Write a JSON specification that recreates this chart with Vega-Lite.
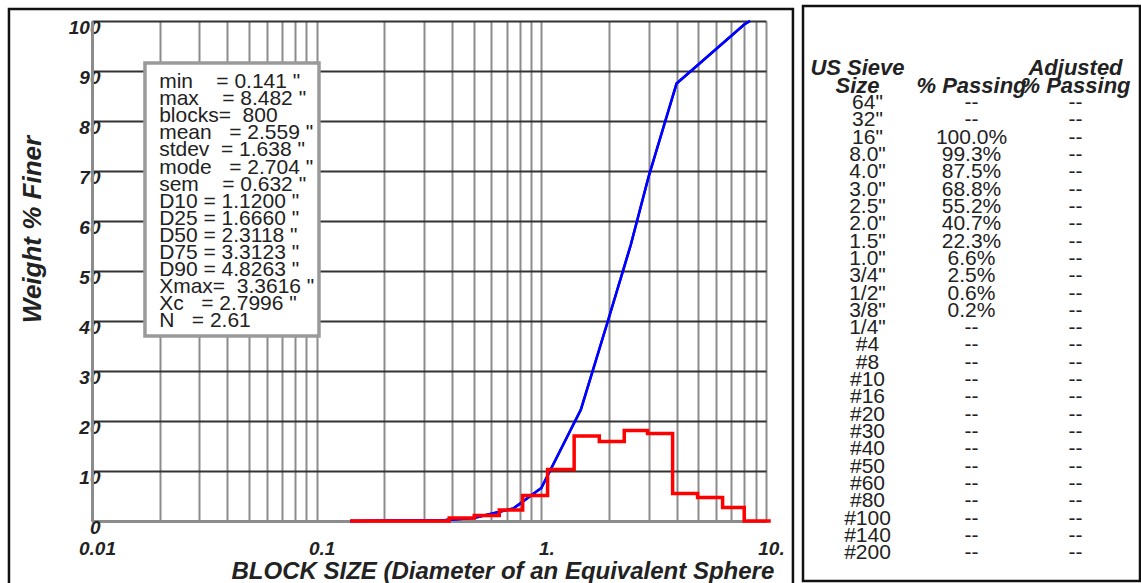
{
  "$schema": "https://vega.github.io/schema/vega-lite/v6.json",
  "background": "white",
  "padding": {"left": 7, "top": 4, "right": 0, "bottom": 0},
  "spacing": 6,
  "config": {
    "font": "Liberation Sans",
    "axis": {"labelFont": "Liberation Sans", "titleFont": "Liberation Sans"}
  },
  "datasets": {
    "cumulative": [
      {"size": 0.141, "pct": 0},
      {"size": 0.375, "pct": 0.2},
      {"size": 0.5, "pct": 0.6},
      {"size": 0.75, "pct": 2.5},
      {"size": 1.0, "pct": 6.6},
      {"size": 1.5, "pct": 22.3},
      {"size": 2.0, "pct": 40.7},
      {"size": 2.5, "pct": 55.2},
      {"size": 3.0, "pct": 68.8},
      {"size": 4.0, "pct": 87.5},
      {"size": 8.0, "pct": 99.3},
      {"size": 8.482, "pct": 100}
    ],
    "histogram": [
      {"size": 0.141, "pct": 0},
      {"size": 0.389, "pct": 0.6},
      {"size": 0.503, "pct": 1.1},
      {"size": 0.65, "pct": 2.2},
      {"size": 0.826, "pct": 5.1},
      {"size": 1.066, "pct": 10.3},
      {"size": 1.4, "pct": 17.0},
      {"size": 1.811, "pct": 15.9},
      {"size": 2.339, "pct": 18.1},
      {"size": 2.97, "pct": 17.5},
      {"size": 3.84, "pct": 5.5},
      {"size": 4.96, "pct": 4.7},
      {"size": 6.41, "pct": 2.7},
      {"size": 8.0, "pct": 0},
      {"size": 10.5, "pct": 0}
    ],
    "stats": [
      {"label": "min\u00a0\u00a0\u00a0\u00a0= 0.141\u00a0\"\nmax\u00a0\u00a0\u00a0\u00a0= 8.482\u00a0\"\nblocks=\u00a0\u00a0800\nmean\u00a0\u00a0\u00a0= 2.559\u00a0\"\nstdev\u00a0\u00a0= 1.638\u00a0\"\nmode\u00a0\u00a0\u00a0= 2.704\u00a0\"\nsem\u00a0\u00a0\u00a0\u00a0= 0.632\u00a0\"\nD10\u00a0= 1.1200\u00a0\"\nD25\u00a0= 1.6660\u00a0\"\nD50\u00a0= 2.3118\u00a0\"\nD75\u00a0= 3.3123\u00a0\"\nD90\u00a0= 4.8263\u00a0\"\nXmax=\u00a0\u00a03.3616\u00a0\"\nXc\u00a0\u00a0\u00a0= 2.7996\u00a0\"\nN\u00a0\u00a0\u00a0= 2.61"}
    ],
    "header": [
      {"line": "h1", "column": "sieve", "text": "US Sieve"},
      {"line": "h1", "column": "adjusted", "text": "Adjusted"},
      {"line": "h2", "column": "sieve", "text": "Size"},
      {"line": "h2", "column": "passing", "text": "% Passing"},
      {"line": "h2", "column": "adjusted", "text": "% Passing"}
    ],
    "sieves": [
      {"sieve": "64\"", "passing": "--", "adjusted": "--"},
      {"sieve": "32\"", "passing": "--", "adjusted": "--"},
      {"sieve": "16\"", "passing": "100.0%", "adjusted": "--"},
      {"sieve": "8.0\"", "passing": "99.3%", "adjusted": "--"},
      {"sieve": "4.0\"", "passing": "87.5%", "adjusted": "--"},
      {"sieve": "3.0\"", "passing": "68.8%", "adjusted": "--"},
      {"sieve": "2.5\"", "passing": "55.2%", "adjusted": "--"},
      {"sieve": "2.0\"", "passing": "40.7%", "adjusted": "--"},
      {"sieve": "1.5\"", "passing": "22.3%", "adjusted": "--"},
      {"sieve": "1.0\"", "passing": "6.6%", "adjusted": "--"},
      {"sieve": "3/4\"", "passing": "2.5%", "adjusted": "--"},
      {"sieve": "1/2\"", "passing": "0.6%", "adjusted": "--"},
      {"sieve": "3/8\"", "passing": "0.2%", "adjusted": "--"},
      {"sieve": "1/4\"", "passing": "--", "adjusted": "--"},
      {"sieve": "#4", "passing": "--", "adjusted": "--"},
      {"sieve": "#8", "passing": "--", "adjusted": "--"},
      {"sieve": "#10", "passing": "--", "adjusted": "--"},
      {"sieve": "#16", "passing": "--", "adjusted": "--"},
      {"sieve": "#20", "passing": "--", "adjusted": "--"},
      {"sieve": "#30", "passing": "--", "adjusted": "--"},
      {"sieve": "#40", "passing": "--", "adjusted": "--"},
      {"sieve": "#50", "passing": "--", "adjusted": "--"},
      {"sieve": "#60", "passing": "--", "adjusted": "--"},
      {"sieve": "#80", "passing": "--", "adjusted": "--"},
      {"sieve": "#100", "passing": "--", "adjusted": "--"},
      {"sieve": "#140", "passing": "--", "adjusted": "--"},
      {"sieve": "#200", "passing": "--", "adjusted": "--"}
    ]
  },
  "hconcat": [
    {
      "spacing": 0,
      "vconcat": [
        {
          "width": 1,
          "height": 1,
          "view": {"stroke": null},
          "data": {"values": []},
          "mark": {"type": "point", "opacity": 0},
          "encoding": {}
        },
        {
          "width": 674,
          "height": 500,
          "view": {"stroke": null},
          "layer": [
            {
              "data": {"name": "cumulative"},
              "mark": {"type": "line", "color": "#0000ff", "strokeWidth": 2.5},
              "encoding": {
                "x": {
                  "field": "size",
                  "type": "quantitative",
                  "scale": {"type": "log", "domain": [0.01, 10], "nice": false},
                  "axis": {
                    "values": [0.01, 0.02, 0.03, 0.04, 0.05, 0.06, 0.07, 0.08, 0.09, 0.1, 0.2, 0.3, 0.4, 0.5, 0.6, 0.7, 0.8, 0.9, 1, 2, 3, 4, 5, 6, 7, 8, 9, 10],
                    "labelExpr": "datum.value == 0.01 ? '0.01' : datum.value == 0.1 ? '0.1' : datum.value == 1 ? '1.' : datum.value == 10 ? '10.' : ''",
                    "title": "BLOCK SIZE (Diameter of an Equivalent Sphere",
                    "grid": true,
                    "gridColor": "#8c8c8c",
                    "gridWidth": 2,
                    "gridOpacity": 1,
                    "ticks": false,
                    "domainColor": "#8c8c8c",
                    "domainWidth": 3,
                    "labelFontSize": 19,
                    "labelFontWeight": "bold",
                    "labelFontStyle": "italic",
                    "labelColor": "#222",
                    "labelPadding": 18,
                    "labelOffset": 5,
                    "labelFlush": false,
                    "labelOverlap": false,
                    "labelBound": false,
                    "titleFontSize": 24,
                    "titleFontWeight": "bold",
                    "titleFontStyle": "italic",
                    "titleColor": "#222",
                    "titleAlign": "left",
                    "titleBaseline": "alphabetic",
                    "titleX": 139,
                    "titleY": 57
                  }
                },
                "y": {
                  "field": "pct",
                  "type": "quantitative",
                  "scale": {"domain": [0, 100], "nice": false, "zero": false},
                  "axis": {
                    "values": [0, 10, 20, 30, 40, 50, 60, 70, 80, 90, 100],
                    "title": "Weight % Finer",
                    "grid": true,
                    "gridColor": "#333",
                    "gridWidth": 2.2,
                    "gridOpacity": 1,
                    "ticks": false,
                    "domainColor": "#8c8c8c",
                    "domainWidth": 3,
                    "labelFontSize": 19,
                    "labelFontWeight": "bold",
                    "labelFontStyle": "italic",
                    "labelColor": "#222",
                    "labelPadding": -8,
                    "labelOffset": 6,
                    "labelAlign": "right",
                    "labelFlush": false,
                    "labelOverlap": false,
                    "labelBound": false,
                    "titleFontSize": 26,
                    "titleFontWeight": "bold",
                    "titleFontStyle": "italic",
                    "titleColor": "#222",
                    "titleAlign": "center",
                    "titleBaseline": "middle",
                    "titleAngle": -90,
                    "titleX": -60,
                    "titleY": 208
                  }
                }
              }
            },
            {
              "data": {"name": "stats"},
              "mark": {"type": "rect", "fill": "white", "stroke": "#9a9a9a", "strokeWidth": 3.5},
              "encoding": {
                "x": {"datum": 0.01721, "type": "quantitative"},
                "x2": {"datum": 0.1024},
                "y": {"datum": 91.6, "type": "quantitative"},
                "y2": {"datum": 37}
              }
            },
            {
              "data": {"name": "stats"},
              "mark": {"type": "text", "align": "left", "baseline": "alphabetic", "fontSize": 21, "lineHeight": 17.1, "lineBreak": "\n", "color": "#222"},
              "encoding": {
                "x": {"datum": 0.0199, "type": "quantitative"},
                "y": {"datum": 86.6, "type": "quantitative"},
                "text": {"field": "label", "type": "nominal"}
              }
            },
            {
              "data": {"name": "cumulative"},
              "mark": {"type": "line", "color": "#0000ff", "strokeWidth": 2.5},
              "encoding": {
                "x": {"field": "size", "type": "quantitative"},
                "y": {"field": "pct", "type": "quantitative"}
              }
            },
            {
              "data": {"name": "histogram"},
              "mark": {"type": "line", "color": "#ff0000", "strokeWidth": 3.5, "interpolate": "step-after"},
              "encoding": {
                "x": {"field": "size", "type": "quantitative"},
                "y": {"field": "pct", "type": "quantitative"}
              }
            },
            {
              "data": {"name": "stats"},
              "mark": {"type": "rect", "filled": false, "stroke": "#111", "strokeWidth": 2.5},
              "encoding": {
                "x": {"datum": 0.00427, "type": "quantitative"},
                "x2": {"datum": 13.18},
                "y": {"datum": 102.4, "type": "quantitative"},
                "y2": {"datum": -13.6}
              }
            }
          ]
        }
      ]
    },
    {
      "width": 337,
      "height": 575,
      "view": {"stroke": "#111", "strokeWidth": 2.5},
      "layer": [
        {
          "data": {"name": "header"},
          "transform": [{"filter": "datum.column != 'sieve'"}],
          "mark": {"type": "text", "align": "center", "baseline": "middle", "fontSize": 22, "fontWeight": "bold", "fontStyle": "italic", "color": "#222"},
          "encoding": {
            "x": {
              "field": "column",
              "type": "nominal",
              "scale": {"type": "point", "domain": ["sieve", "passing", "adjusted"], "padding": 0.62, "align": 0.5},
              "axis": null
            },
            "y": {
              "field": "line",
              "type": "ordinal",
              "scale": {
                "type": "point",
                "domain": ["top1", "top2", "top3", "h1", "h2", "64\"", "32\"", "16\"", "8.0\"", "4.0\"", "3.0\"", "2.5\"", "2.0\"", "1.5\"", "1.0\"", "3/4\"", "1/2\"", "3/8\"", "1/4\"", "#4", "#8", "#10", "#16", "#20", "#30", "#40", "#50", "#60", "#80", "#100", "#140", "#200", "end1"],
                "padding": 0.6,
                "align": 0.5
              },
              "axis": null
            },
            "text": {"field": "text"}
          }
        },
        {
          "data": {"name": "header"},
          "transform": [{"filter": "datum.column == 'sieve'"}],
          "mark": {"type": "text", "align": "center", "baseline": "middle", "fontSize": 22, "fontWeight": "bold", "fontStyle": "italic", "color": "#222", "dx": -10},
          "encoding": {
            "x": {"field": "column", "type": "nominal"},
            "y": {"field": "line", "type": "ordinal"},
            "text": {"field": "text"}
          }
        },
        {
          "data": {"name": "sieves"},
          "transform": [{"fold": ["sieve", "passing", "adjusted"], "as": ["column", "text"]}],
          "mark": {"type": "text", "align": "center", "baseline": "middle", "fontSize": 21, "color": "#222"},
          "encoding": {
            "x": {"field": "column", "type": "nominal"},
            "y": {"field": "sieve", "type": "ordinal"},
            "text": {"field": "text"}
          }
        }
      ]
    }
  ]
}
